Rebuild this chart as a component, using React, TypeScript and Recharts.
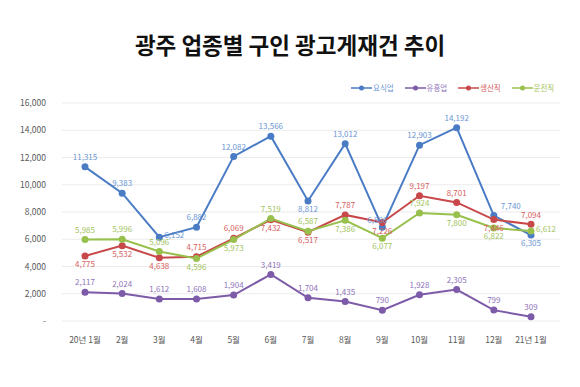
import { CartesianGrid, LabelList, Legend, Line, LineChart, XAxis, YAxis } from "recharts";

const months = ["20년 1월", "2월", "3월", "4월", "5월", "6월", "7월", "8월", "9월", "10월", "11월", "12월", "21년 1월"];
const restaurant = [11315, 9383, 6152, 6882, 12082, 13566, 8812, 13012, 6886, 12903, 14192, 7740, 6305];
const entertainment = [2117, 2024, 1612, 1608, 1904, 3419, 1704, 1435, 790, 1928, 2305, 799, 309];
const production = [4775, 5532, 4638, 4715, 6069, 7432, 6517, 7787, 7226, 9197, 8701, 7446, 7094];
const driving = [5985, 5996, 5096, 4596, 5973, 7519, 6587, 7386, 6077, 7924, 7800, 6822, 6612];
const yTicks = [0, 2000, 4000, 6000, 8000, 10000, 12000, 14000, 16000];

// where each value label sits relative to its point
const blueLabelPos = ["top", "top", "right", "top", "top", "top", "bottom", "top", "tl", "top", "top", "tr", "bottom"];
const purpleLabelPos = Array(13).fill("top");
const redLabelPos = ["bottom", "bottom", "bottom", "top", "top", "bottom", "bottom", "top", "bottom", "top", "top", "bottom", "top"];
const greenLabelPos = ["top", "top", "top", "bottom", "bottom", "top", "top", "bottom", "bottom", "top", "bottom", "bottom", "right"];

const data = months.map((m, i) => ({
  month: m,
  요식업: restaurant[i],
  유흥업: entertainment[i],
  생산직: production[i],
  운전직: driving[i],
}));

const offsets: Record<string, [number, number]> = {
  top: [0, -9],
  bottom: [0, 9],
  right: [15, -1],
  tr: [17, -9],
  tl: [-5, -6],
};

const FONT = "'Noto Sans CJK KR', 'Noto Sans', sans-serif";

const series = [
  { key: "요식업", line: "#4a7cc5", label: "#6b96d4", pos: blueLabelPos },
  { key: "유흥업", line: "#7d5ba8", label: "#8f74b9", pos: purpleLabelPos },
  { key: "생산직", line: "#c8484a", label: "#d75e5e", pos: redLabelPos },
  { key: "운전직", line: "#98c04c", label: "#a3c45e", pos: greenLabelPos },
];

function makeLabel(color: string, pos: string[]) {
  return (props: any) => {
    const { x, y, value, index } = props;
    const [dx, dy] = offsets[pos[index]] || offsets.top;
    return (
      <text
        x={x + dx}
        y={y + dy}
        fill={color}
        fontSize={8}
        fontFamily={FONT}
        textAnchor="middle"
        dominantBaseline="middle"
      >
        {Number(value).toLocaleString("en-US")}
      </text>
    );
  };
}

function LegendContent() {
  return (
    <div style={{ display: "flex", fontFamily: FONT, fontSize: 7.5, whiteSpace: "nowrap", lineHeight: "12px" }}>
      {series.map((s) => (
        <div key={s.key} style={{ display: "flex", alignItems: "center", flexShrink: 0, width: 53.5 }}>
          <svg width={21} height={8}>
            <line x1={0} y1={4} x2={21} y2={4} stroke={s.line} strokeWidth={1.5} />
            <circle cx={10.5} cy={4} r={2.5} fill={s.line} />
          </svg>
          <span style={{ color: s.label, marginLeft: 1 }}>{s.key}</span>
        </div>
      ))}
    </div>
  );
}

export default function App() {
  return (
    <div style={{ position: "absolute", left: 0, top: 0, width: 580, height: 387, background: "#fff" }}>
      <div
        style={{
          position: "absolute",
          top: 28,
          width: 580,
          textAlign: "center",
          fontFamily: FONT,
          fontWeight: 700,
          fontSize: 22.5,
          color: "#111",
        }}
      >
        광주 업종별 구인 광고게재건 추이
      </div>
      <LineChart width={580} height={387} data={data} margin={{ top: 91, right: 20, bottom: 36, left: 12 }}>
        <CartesianGrid vertical={false} stroke="#ebebeb" />
        <XAxis
          dataKey="month"
          axisLine={false}
          tickLine={false}
          padding={{ left: 23, right: 29 }}
          tick={{ fontSize: 8.5, fill: "#595959", fontFamily: FONT }}
          tickMargin={10}
          interval={0}
          height={30}
        />
        <YAxis
          domain={[0, 16000]}
          ticks={yTicks}
          axisLine={false}
          tickLine={false}
          width={50}
          tickMargin={10}
          tick={{ fontSize: 8.5, fill: "#595959", fontFamily: FONT }}
          tickFormatter={(v: number) => (v === 0 ? "-" : v.toLocaleString("en-US"))}
        />
        <Legend
          verticalAlign="top"
          align="right"
          layout="horizontal"
          content={<LegendContent />}
          wrapperStyle={{ top: 82, left: 351, width: 220, height: 12 }}
        />
        {series.map((s) => (
          <Line
            key={s.key}
            dataKey={s.key}
            stroke={s.line}
            strokeWidth={2}
            dot={{ r: 3.5, fill: s.line, stroke: s.line, strokeWidth: 0 }}
            isAnimationActive={false}
          >
            <LabelList dataKey={s.key} content={makeLabel(s.label, s.pos)} />
          </Line>
        ))}
      </LineChart>
    </div>
  );
}
